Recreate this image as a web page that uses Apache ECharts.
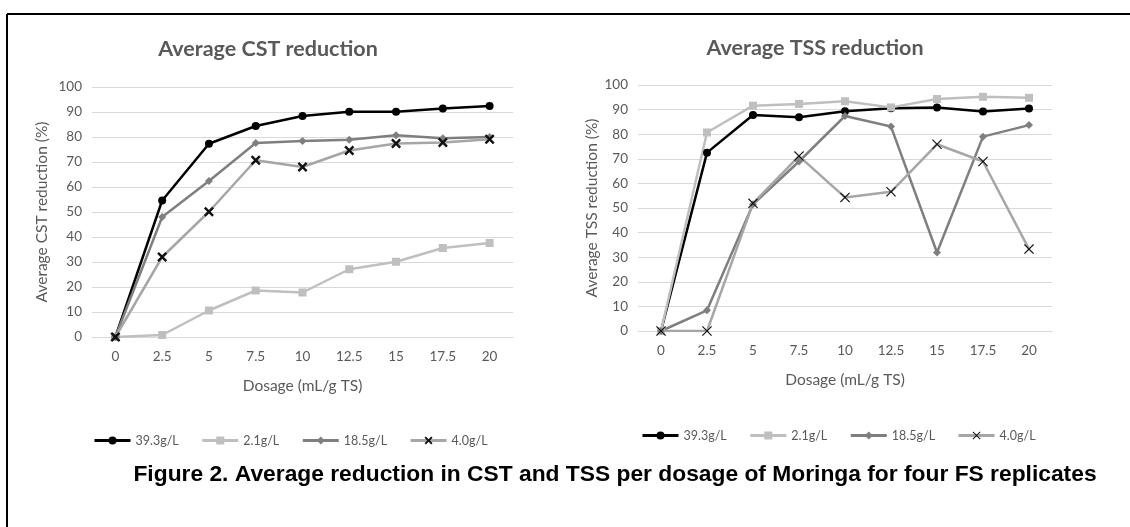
<!DOCTYPE html>
<html>
<head>
<meta charset="utf-8">
<title>Average reduction in CST and TSS</title>
<script src="https://cdn.jsdelivr.net/npm/echarts@6/dist/echarts.min.js"></script>
<style>
    html, body { margin: 0; padding: 0; background: #fff; }
    #chart { width: 1130px; height: 527px; }
</style>
</head>
<body>
<div id="chart"></div>
<script>
// dosage categories (mL/g TS)
var dosage = ['0', '2.5', '5', '7.5', '10', '12.5', '15', '17.5', '20'];
var seriesNames = ['39.3g/L', '2.1g/L', '18.5g/L', '4.0g/L'];

// Average CST reduction (%)
var cst393 = [0, 54.6, 77.3, 84.4, 88.4, 90.1, 90.1, 91.4, 92.4];
var cst21  = [0, 0.8, 10.6, 18.6, 17.8, 27.1, 30.1, 35.6, 37.6];
var cst185 = [0, 48, 62.4, 77.6, 78.4, 78.9, 80.7, 79.5, 80];
var cst40  = [0, 32, 50.1, 70.7, 68, 74.6, 77.4, 77.8, 79.1];

// Average TSS reduction (%)
var tss393 = [0, 72.5, 87.8, 86.9, 89.3, 90.5, 90.9, 89.2, 90.4];
var tss21  = [0, 80.7, 91.6, 92.3, 93.4, 90.9, 94.3, 95.2, 94.8];
var tss185 = [0, 8.4, 51.5, 68.9, 87.4, 83.1, 31.9, 79, 83.7];
var tss40  = [0, 0, 51.9, 71.1, 54.3, 56.6, 75.9, 68.9, 33.3];

var textGrey = '#595959';
var gridGrey = '#d9d9d9';
var font = 'Lato, "Open Sans", sans-serif';

var crossBold = 'path://M0,1.7L1.7,0L5,3.3L8.3,0L10,1.7L6.7,5L10,8.3L8.3,10L5,6.7L1.7,10L0,8.3L3.3,5Z';
var crossThin = 'path://M0,0.8L0.8,0L5,4.2L9.2,0L10,0.8L5.8,5L10,9.2L9.2,10L5,5.8L0.8,10L0,9.2L4.2,5Z';

function makeSeries(idx, suffix, d393, d21, d185, d40, cross) {
    var common = { type: 'line', xAxisIndex: idx, yAxisIndex: idx, animation: false };
    return [
        Object.assign({}, common, {
            name: seriesNames[0] + suffix, data: d393,
            symbol: 'circle', symbolSize: 8,
            itemStyle: { color: '#000' },
            lineStyle: { color: '#000', width: 2.5 }
        }),
        Object.assign({}, common, {
            name: seriesNames[1] + suffix, data: d21,
            symbol: 'rect', symbolSize: 8,
            itemStyle: { color: '#bfbfbf' },
            lineStyle: { color: '#bfbfbf', width: 2.5 }
        }),
        Object.assign({}, common, {
            name: seriesNames[2] + suffix, data: d185,
            symbol: 'diamond', symbolSize: 8,
            itemStyle: { color: '#7f7f7f' },
            lineStyle: { color: '#7f7f7f', width: 2.5 }
        }),
        Object.assign({}, common, {
            name: seriesNames[3] + suffix, data: d40,
            symbol: cross, symbolSize: 10,
            itemStyle: { color: '#111' },
            lineStyle: { color: '#a6a6a6', width: 2.5 }
        })
    ];
}

function makeXAxis(idx) {
    return {
        type: 'category', gridIndex: idx, data: dosage, boundaryGap: true,
        name: 'Dosage (mL/g TS)', nameLocation: 'middle', nameGap: 41,
        nameTextStyle: { color: textGrey, fontSize: 15.5, fontFamily: font },
        axisLine: { lineStyle: { color: gridGrey, width: 1 } },
        axisTick: { show: false },
        axisLabel: { color: textGrey, fontSize: 13.5, fontFamily: font, margin: 13 }
    };
}

function makeYAxis(idx, name, gap) {
    return {
        type: 'value', gridIndex: idx, min: 0, max: 100, interval: 10,
        name: name, nameLocation: 'middle', nameGap: gap,
        nameTextStyle: { color: textGrey, fontSize: 15.5, fontFamily: font },
        axisLine: { show: false },
        axisTick: { show: false },
        splitLine: { lineStyle: { color: gridGrey, width: 1 } },
        axisLabel: { color: textGrey, fontSize: 13.5, fontFamily: font, margin: 10 }
    };
}

function makeLegend(left, top, names, fmt) {
    var lg = {
        left: left, top: top, itemWidth: 36, itemHeight: 10, itemGap: 22,
        data: names,
        lineStyle: { width: 3 },
        textStyle: { color: textGrey, fontSize: 12.5, fontFamily: font },
        selectedMode: false
    };
    if (fmt) lg.formatter = fmt;
    return lg;
}

var myChart = echarts.init(document.getElementById('chart'));

var opt = {
    backgroundColor: '#fff',
    animation: false,
    grid: [
        { left: 92, top: 87, width: 421, height: 250 },
        { left: 638, top: 85, width: 414, height: 246 }
    ],
    xAxis: [makeXAxis(0), makeXAxis(1)],
    yAxis: [
        makeYAxis(0, 'Average CST reduction (%)', 42),
        makeYAxis(1, 'Average TSS reduction (%)', 38)
    ],
    legend: [
        makeLegend(88, 429, seriesNames.slice()),
        makeLegend(636, 424, seriesNames.map(function (n) { return n + ' '; }), function (n) { return n.trim(); })
    ],
    series: makeSeries(0, '', cst393, cst21, cst185, cst40, crossBold)
        .concat(makeSeries(1, ' ', tss393, tss21, tss185, tss40, crossThin)),
    graphic: [
        // frame
        { type: 'line', shape: { x1: 7, y1: 14, x2: 1130, y2: 14 }, style: { stroke: '#000', lineWidth: 2 } },
        { type: 'line', shape: { x1: 7, y1: 14, x2: 7, y2: 527 }, style: { stroke: '#000', lineWidth: 2 } },
        // titles
        { type: 'text', x: 268, y: 49, style: { text: 'Average CST reduction', textAlign: 'center', textVerticalAlign: 'middle', fill: textGrey, font: 'bold 21.5px ' + font } },
        { type: 'text', x: 815, y: 48, style: { text: 'Average TSS reduction', textAlign: 'center', textVerticalAlign: 'middle', fill: textGrey, font: 'bold 21.5px ' + font } },
        // caption
        { type: 'text', x: 615, y: 475, style: { text: 'Figure 2. Average reduction in CST and TSS per dosage of Moringa for four FS replicates', textAlign: 'center', textVerticalAlign: 'middle', fill: '#000', font: 'bold 22.8px "Liberation Sans", Arial, sans-serif' } }
    ]
};

myChart.setOption(opt);
</script>
</body>
</html>
